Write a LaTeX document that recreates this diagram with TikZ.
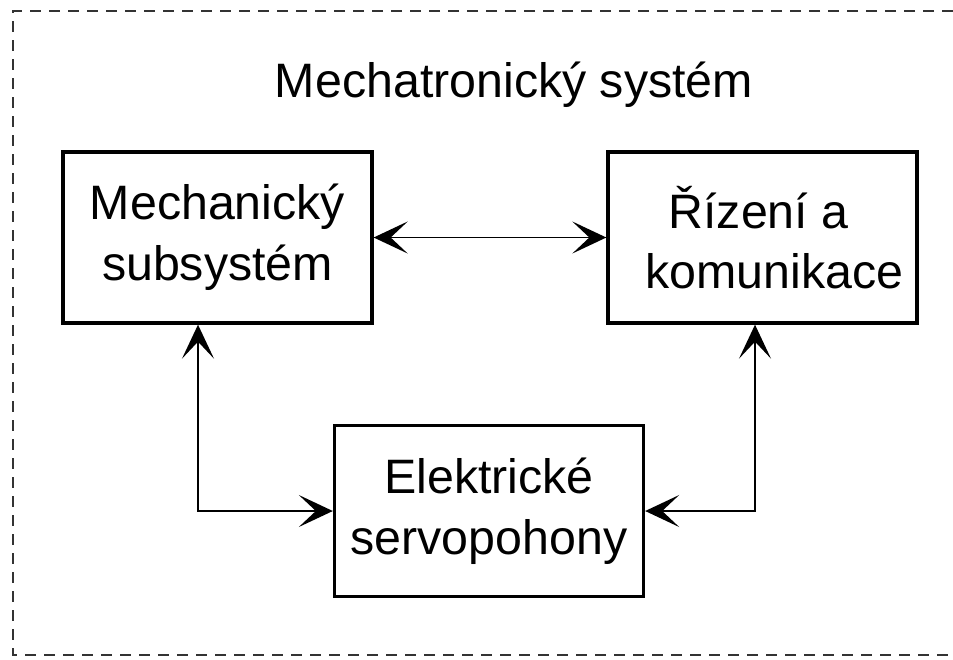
\documentclass[tikz,border=0pt]{standalone}
\usepackage{fontspec}
\setmainfont{Liberation Sans}
\usepackage{tikz}
\usetikzlibrary{arrows.meta}

\begin{document}
\begin{tikzpicture}[
  blok/.style={draw, line width=1.9pt, minimum width=6.18cm, minimum height=3.42cm,
    align=center, inner sep=0pt, font=\fontsize{27.5}{34.5}\selectfont},
  spoj/.style={line width=1.1pt, {Stealth[length=0.68cm, width=0.64cm, inset=0.34cm]}-{Stealth[length=0.68cm, width=0.64cm, inset=0.34cm]}}]
\useasboundingbox (0,0) rectangle (19.06,-13.18);
\draw[line width=1.4pt, dash pattern=on 0.22cm off 0.16cm, black!80] (19.06,-0.22) -- (0.26,-0.22) -- (0.26,-13.1) -- (19.06,-13.1);
\node [anchor=base, font=\fontsize{27.5}{34.5}\selectfont] (titul) at (10.28,-1.94) {Mechatronický systém};
\node [blok] (mech) at (4.35,-4.75) {Mechanický\\subsystém};
\node [blok] (rizeni) at (15.25,-4.75) {Řízení a\hspace*{0.16cm}\\\hspace*{0.48cm}komunikace};
\node [blok] (elektr) at (9.78,-10.22) {Elektrické\\servopohony};
\draw[spoj] (mech.east) -- (rizeni.west);
\draw[spoj] ([xshift=-0.39cm]mech.south) |- (elektr.west);
\draw[spoj] ([xshift=-0.15cm]rizeni.south) |- (elektr.east);
\end{tikzpicture}
\end{document}
